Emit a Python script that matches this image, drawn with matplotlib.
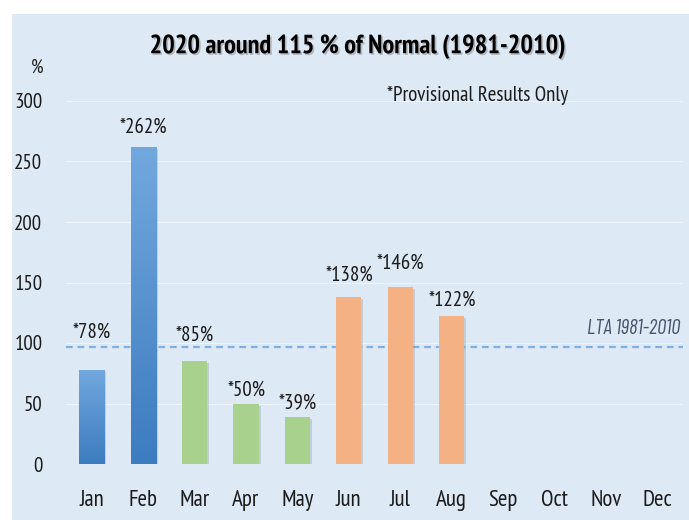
import matplotlib
matplotlib.use("Agg")
import matplotlib.pyplot as plt
import numpy as np
from matplotlib.patches import Rectangle
import matplotlib.patheffects as pe

months = ["Jan", "Feb", "Mar", "Apr", "May", "Jun", "Jul", "Aug", "Sep", "Oct", "Nov", "Dec"]
pct_normal = [78, 262, 85, 50, 39, 138, 146, 122]
bar_labels = ["*78%", "*262%", "*85%", "*50%", "*39%", "*138%", "*146%", "*122%"]
lta_level = 97
yticks = [0, 50, 100, 150, 200, 250, 300]

# label centre distance above each bar top (pixels), as placed in the original
label_dy = [37, 20, 26, 13, 14, 22, 24, 16]

BG = "#dde9f5"
FONT = ["PT Sans Narrow", "DejaVu Sans"]
plt.rcParams["font.family"] = FONT

fig = plt.figure(figsize=(6.89, 5.2), dpi=100)
fig.patch.set_facecolor("white")
fig.patches.append(Rectangle((12 / 689, 0), 1, 1 - 14 / 520, transform=fig.transFigure,
                             facecolor=BG, edgecolor="none", zorder=-10))

ax = fig.add_axes([66 / 689, 1 - 464 / 520, 617 / 689, 363 / 520])
ax.patch.set_alpha(0)
for s in ax.spines.values():
    s.set_visible(False)

x = np.arange(len(months))
n = len(pct_normal)
colors = {
    "blue": ("#72a8de", "#3d7cc0"),
    "green": ("#a9d18e", "#a9d18e"),
    "orange": ("#f4b183", "#f4b183"),
}
groups = ["blue", "blue", "green", "green", "green", "orange", "orange", "orange"]

shadow = [pe.SimplePatchShadow(offset=(1.5, -1.5), shadow_rgbFace="#8a99aa", alpha=0.35), pe.Normal()]
bars = ax.bar(x[:n], pct_normal, width=0.49, edgecolor="none", zorder=3)
for b, g in zip(bars, groups):
    top_c, bot_c = colors[g]
    b.set_facecolor(top_c)
    b.set_path_effects(shadow)
    if top_c != bot_c:
        cmap = matplotlib.colors.LinearSegmentedColormap.from_list("g", [bot_c, top_c])
        x0, w, h = b.get_x(), b.get_width(), b.get_height()
        im = ax.imshow(np.linspace(0, 1, 100).reshape(-1, 1), cmap=cmap, aspect="auto",
                       extent=(x0, x0 + w, 0, h), origin="lower", zorder=4)
        im.set_clip_path(b)

for b, lab, dy in zip(bars, bar_labels, label_dy):
    ax.annotate(lab, (b.get_x() + b.get_width() / 2, b.get_height()),
                xytext=(0, dy * 0.72), textcoords="offset points",
                ha="center", va="center", fontsize=15, color="#1a1a1a")

ax.axhline(lta_level, color="#7eb0e2", lw=1.6, ls=(0, (3, 2.2)), zorder=2)
ax.text(11.45, 112, "LTA 1981-2010", ha="right", va="center", fontsize=15,
        family=["Barlow Condensed", "DejaVu Sans"], style="italic", color="#44546a")

ax.set_xlim(-0.5, 11.5)
ax.set_ylim(0, 300)
ax.set_yticks(yticks)
ax.set_xticks(x)
ax.set_xticklabels(months)
ax.tick_params(axis="y", length=0, pad=17, labelsize=15, labelcolor="#1a1a1a")
ax.tick_params(axis="x", length=0, pad=19, labelsize=16.5, labelcolor="#1a1a1a")
ax.grid(axis="y", color="#eef4fb", lw=0.8, zorder=0)
ax.set_axisbelow(True)

fig.text(37 / 689, 1 - 68 / 520, "%", ha="center", va="center", fontsize=14, color="#1a1a1a")
fig.text(357 / 689, 1 - 47 / 520, "2020 around 115 % of Normal (1981-2010)", ha="center",
         va="center", fontsize=19, fontweight="bold", color="black",
         path_effects=[pe.withSimplePatchShadow(offset=(1.2, -1.2), shadow_rgbFace="#888888", alpha=0.5)])
fig.text(478 / 689, 1 - 95 / 520, "*Provisional Results Only", ha="center", va="center",
         fontsize=15, color="#1a1a1a")

fig.savefig("out.png", dpi=100, facecolor="white")
